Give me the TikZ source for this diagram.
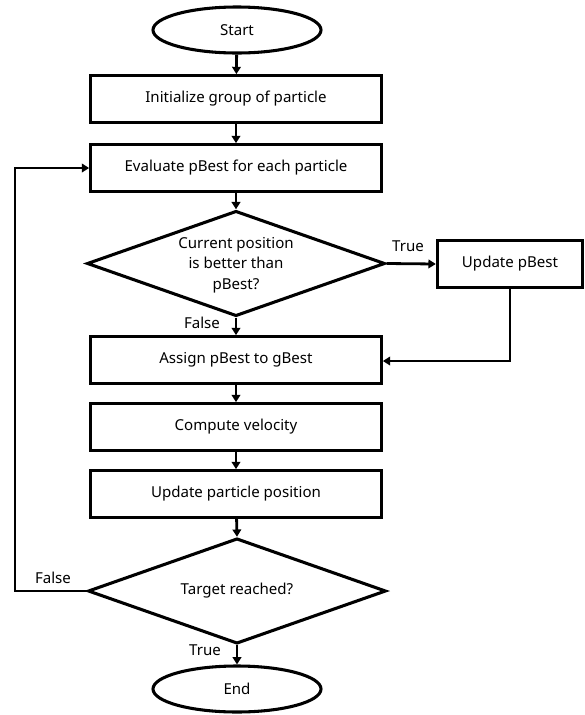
\documentclass[tikz,border=0pt]{standalone}
\usepackage{fontspec}
\setmainfont{Noto Sans}
\usetikzlibrary{shapes.geometric,arrows.meta,calc}
\begin{document}
\begin{tikzpicture}[x=0.75pt,y=-0.75pt,
  every node/.style={font=\fontsize{11.3}{15.5}\selectfont},
  line/.style={line width=2.3pt, draw=black},
  procbox/.style={line, rectangle, minimum width=218pt, minimum height=35pt, inner sep=0pt, fill=white},
  smallbox/.style={line, rectangle, minimum width=109pt, minimum height=35pt, inner sep=0pt},
  term/.style={line, ellipse, minimum width=126pt, minimum height=34.5pt, inner sep=0pt},
  decide/.style={line, diamond, minimum width=223.5pt, minimum height=79pt, inner sep=0pt},
  lbl/.style={inner sep=1pt},
  conn/.style={line width=2.1pt, -{Triangle[length=5.5pt,width=6.5pt]}}
]
\path[use as bounding box] (0,0) rectangle (585,715);
\node[term] (start) at (237,30) {Start};
\node[procbox] (init) at (236,99) {Initialize group of particle};
\node[procbox] (eval) at (236,168) {Evaluate pBest for each particle};
\node[decide] (d1) at (236,263.5) {};
\node[align=center] (d1t) at (236,265) {Current position\\is better than\\pBest?};
\node[smallbox] (upd) at (510,264) {Update pBest};
\node[procbox] (assign) at (236,360) {Assign pBest to gBest};
\node[procbox] (comp) at (236,427) {Compute velocity};
\node[procbox] (pos) at (236,494) {Update particle position};
\node[decide] (d2) at (237,591) {};
\node (d2t) at (237,591) {Target reached?};
\node[term] (end) at (237,689) {End};
\coordinate (lc) at (15,591);
\draw[conn] (start) -- (init);
\draw[conn] (init) -- (eval);
\draw[conn] (eval) -- (d1.north);
\draw[conn] (d1.east) -- (upd.west);
\node[lbl] (ltrue1) at (408,246) {True};
\draw[conn] (d1.south) -- (assign.north);
\node[lbl] (lfalse1) at (202,323) {False};
\draw[conn] (upd.south) |- ($(assign.east)+(0,1)$);
\draw[conn] (assign) -- (comp);
\draw[conn] (comp) -- (pos);
\draw[conn] (pos) -- (d2.north);
\draw[conn] (d2.south) -- (end.north);
\node[lbl] (ltrue2) at (205,650) {True};
\draw[conn] (d2.west) -- (lc) |- (eval.west);
\node[lbl] (lfalse2) at (53,578) {False};
\end{tikzpicture}
\end{document}
